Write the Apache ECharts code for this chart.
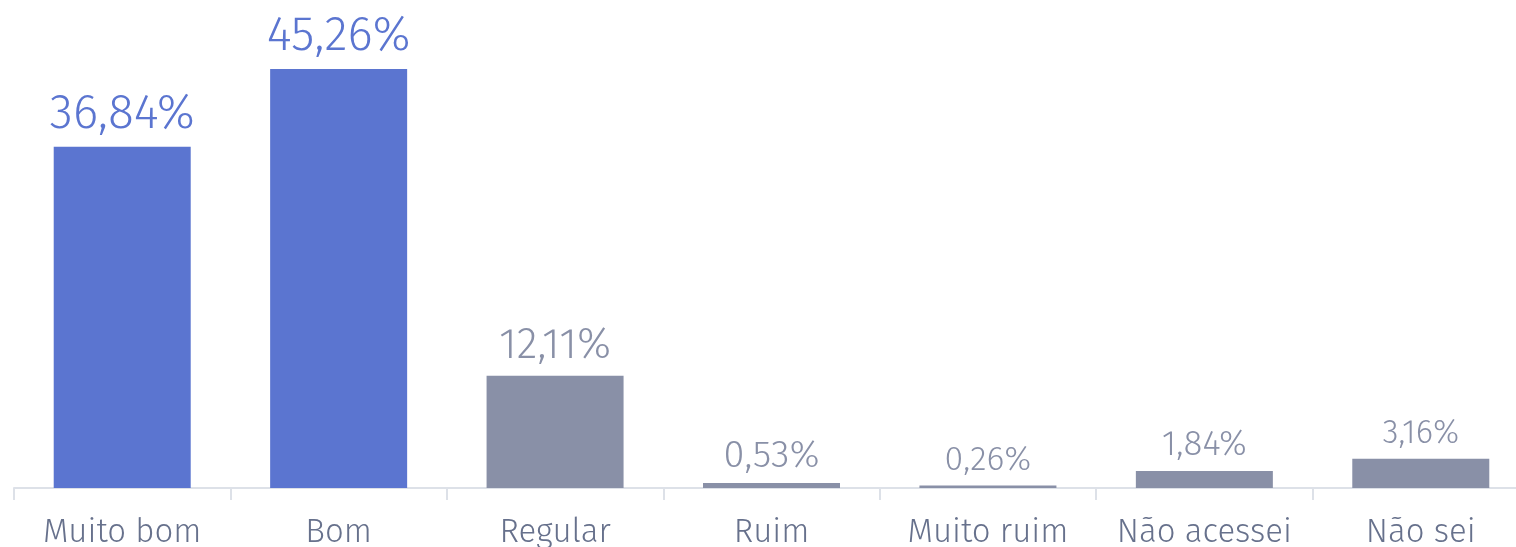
<!DOCTYPE html>
<html>
<head>
<meta charset="utf-8">
<script src="https://cdn.jsdelivr.net/npm/echarts@6/dist/echarts.min.js"></script>
<style>
html,body{margin:0;padding:0;background:#fff;}
#chart{width:1516px;height:547px;}
</style>
</head>
<body>
<div id="chart"></div>
<script>
const categories = ['Muito bom', 'Bom', 'Regular', 'Ruim', 'Muito ruim', 'Não acessei', 'Não sei'];
const values = [36.84, 45.26, 12.11, 0.53, 0.26, 1.84, 3.16];
const highlighted = [true, true, false, false, false, false, false];

const labelFontSizes = [48, 48, 43, 38, 34, 35, 33];
const BLUE = '#5B75D0';
const GRAY = '#8990A7';
const FONT = '"Fira Sans", Lato, sans-serif';

const chart = echarts.init(document.getElementById('chart'), null, {renderer: 'canvas'});
chart.setOption({
  animation: false,
  grid: {left: 14, top: 25, bottom: 59, width: 1515, outerBoundsMode: 'none', containLabel: false},
  xAxis: {
    type: 'category',
    data: categories,
    axisLine: {show: true, lineStyle: {color: '#DDE1E8', width: 2}},
    axisTick: {show: true, length: 12, lineStyle: {color: '#DDE1E8', width: 2}},
    axisLabel: {interval: 0, color: '#67718C', fontSize: 33, fontFamily: FONT, fontWeight: 300, margin: 28}
  },
  yAxis: {type: 'value', min: 0, max: 50, show: false, splitLine: {show: false}},
  series: [{
    type: 'bar',
    barWidth: 137,
    data: values.map((v, i) => ({
      value: v,
      itemStyle: {color: highlighted[i] ? BLUE : GRAY},
      label: {
        show: true,
        position: 'top',
        distance: 8,
        fontSize: labelFontSizes[i],
        fontFamily: FONT,
        fontWeight: 300,
        color: highlighted[i] ? BLUE : GRAY,
        formatter: (p) => p.value.toFixed(2).replace('.', ',') + '%'
      }
    }))
  }]
});
</script>
</body>
</html>
